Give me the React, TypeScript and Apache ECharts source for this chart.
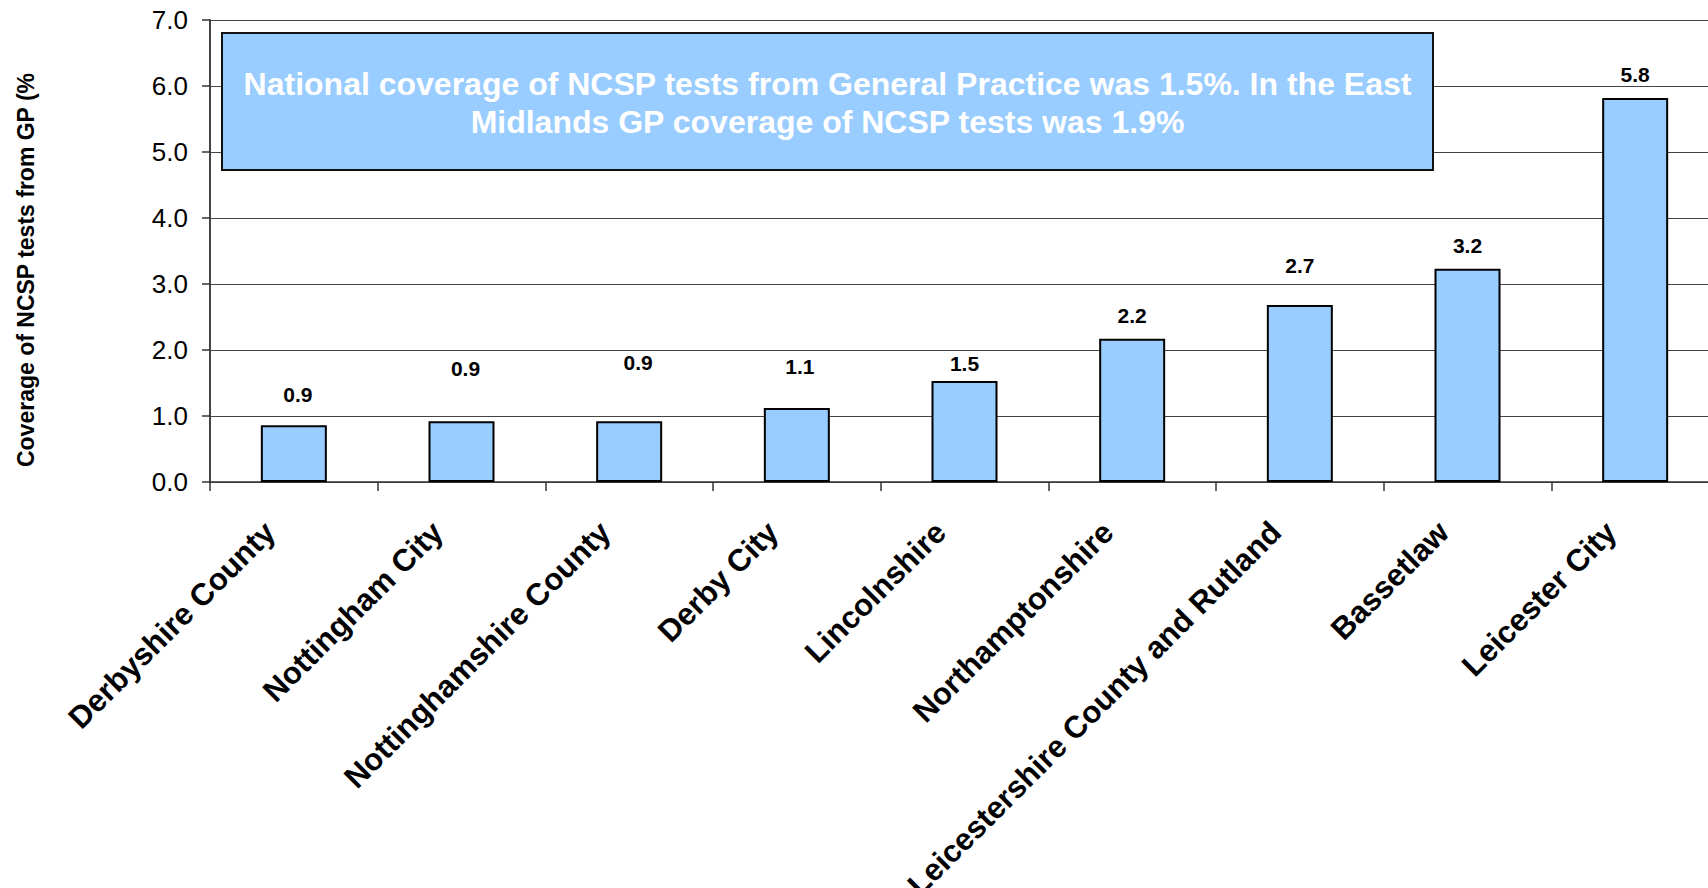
import React, { useEffect, useRef } from "react";
import * as echarts from "echarts";

const categories = [
  "Derbyshire County",
  "Nottingham City",
  "Nottinghamshire County",
  "Derby City",
  "Lincolnshire",
  "Northamptonshire",
  "Leicestershire County and Rutland",
  "Bassetlaw",
  "Leicester City",
];
const coverage = [0.86, 0.92, 0.92, 1.12, 1.53, 2.17, 2.68, 3.23, 5.82];
// data-label shifts [dx, dy] as placed in the original
const labelShift = [
  [4, -15],
  [4, -37],
  [9, -43],
  [3, -26],
  [0, -2],
  [0, -8],
  [0, -24],
  [0, -8],
  [0, -8],
];
const yMin = 0;
const yMax = 7;
const yStep = 1;
const yTitle = "Coverage of NCSP tests from GP (%";
const noteLines = [
  "National coverage of NCSP tests from General Practice was 1.5%. In the East",
  "Midlands GP coverage of NCSP tests was 1.9%",
];

const FONT = '"Liberation Sans", Arial, Helvetica, sans-serif';

export default function App() {
  const ref = useRef<HTMLDivElement>(null);
  useEffect(() => {
    if (!ref.current) return;
    const chart = echarts.init(ref.current, null, { renderer: "svg" });

    // condense the note text to the width of the original narrow font
    let scaleX = 0.8;
    try {
      const ctx = document.createElement("canvas").getContext("2d");
      if (ctx) {
        ctx.font = `bold 32px "Liberation Sans"`;
        const w = ctx.measureText(noteLines[0]).width;
        if (w > 0) scaleX = 1169 / w;
      }
    } catch (e) {}

    chart.setOption({
      animation: false,
      backgroundColor: "#ffffff",
      grid: {
        left: 210,
        top: 20,
        width: 1509,
        height: 462,
        containLabel: false,
        outerBoundsMode: "none",
      },
      xAxis: {
        type: "category",
        data: categories,
        boundaryGap: true,
        axisLine: { lineStyle: { color: "#333", width: 1.5 } },
        axisTick: { show: true, length: 9, lineStyle: { color: "#333", width: 1.5 } },
        axisLabel: {
          interval: 0,
          rotate: 45,
          margin: 21,
          padding: [0, 34, 0, 0],
          color: "#000",
          fontFamily: FONT,
          fontWeight: "bold",
          fontSize: 31,
        },
      },
      yAxis: {
        type: "value",
        min: yMin,
        max: yMax,
        interval: yStep,
        axisLine: { show: true, lineStyle: { color: "#444", width: 2 } },
        axisTick: { show: true, length: 8, lineStyle: { color: "#333", width: 1.5 } },
        axisLabel: {
          margin: 22,
          color: "#000",
          fontFamily: FONT,
          fontSize: 26,
          formatter: (v: number) => v.toFixed(1),
        },
        splitLine: { show: true, lineStyle: { color: "#444", width: 1.2 } },
      },
      series: [
        {
          type: "bar",
          barWidth: 66,
          data: coverage.map((v, i) => ({
            value: v,
            label: { offset: labelShift[i] },
          })),
          itemStyle: { color: "#99CCFF", borderColor: "#000", borderWidth: 2 },
          label: {
            show: true,
            position: "top",
            distance: 5,
            color: "#000",
            fontFamily: FONT,
            fontWeight: "bold",
            fontSize: 21,
            formatter: (p: any) => Number(p.value).toFixed(1),
          },
          z: 3,
        },
      ],
      graphic: [
        {
          type: "text",
          x: 26,
          y: 270,
          rotation: Math.PI / 2,
          style: {
            text: yTitle,
            font: `bold 23px ${FONT}`,
            fill: "#000",
            align: "center",
            verticalAlign: "middle",
          },
        },
        {
          type: "rect",
          z: 100,
          shape: { x: 222, y: 33, width: 1211, height: 137 },
          style: { fill: "#99CCFF", stroke: "#111", lineWidth: 2 },
        },
        {
          type: "text",
          z: 101,
          x: 827.5,
          y: 103,
          scaleX: scaleX,
          style: {
            text: noteLines.join("\n"),
            font: `bold 32px ${FONT}`,
            lineHeight: 38,
            fill: "#ffffff",
            align: "center",
            verticalAlign: "middle",
          },
        },
      ],
    });
    return () => chart.dispose();
  }, []);
  return (
    <div
      ref={ref}
      style={{ position: "absolute", left: 0, top: 0, width: 1708, height: 888 }}
    />
  );
}
